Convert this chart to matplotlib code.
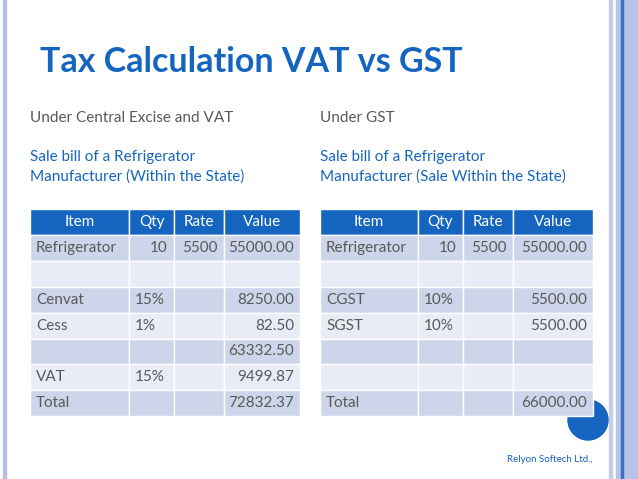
import matplotlib.pyplot as plt
from matplotlib.patches import Rectangle, Circle

plt.rcParams['font.family'] = 'Lato'

title = "Tax Calculation VAT vs GST"
headers = ["Item", "Qty", "Rate", "Value"]

vat_heading = "Under Central Excise and VAT"
vat_sub = "Sale bill of a Refrigerator\nManufacturer (Within the State)"
vat_rows = [
    ["Refrigerator", "10", "5500", "55000.00"],
    ["", "", "", ""],
    ["Cenvat", "15%", "", "8250.00"],
    ["Cess", "1%", "", "82.50"],
    ["", "", "", "63332.50"],
    ["VAT", "15%", "", "9499.87"],
    ["Total", "", "", "72832.37"],
]

gst_heading = "Under GST"
gst_sub = "Sale bill of a Refrigerator\nManufacturer (Sale Within the State)"
gst_rows = [
    ["Refrigerator", "10", "5500", "55000.00"],
    ["", "", "", ""],
    ["CGST", "10%", "", "5500.00"],
    ["SGST", "10%", "", "5500.00"],
    ["", "", "", ""],
    ["", "", "", ""],
    ["Total", "", "", "66000.00"],
]

BLUE = '#1565c0'
DARK = '#cdd5ea'
LIGHT = '#e8ecf6'
GREY = '#595959'
FS = 11

fig = plt.figure(figsize=(6.38, 4.79), dpi=100)
ax = fig.add_axes([0, 0, 1, 1])
ax.set_xlim(0, 638)
ax.set_ylim(479, 0)
ax.axis('off')

# slide frame
ax.add_patch(Rectangle((3, 0), 3, 479, color='#b4c0e0'))
ax.add_patch(Rectangle((609, 0), 3, 479, color='#c4cce6'))
ax.add_patch(Rectangle((616, 0), 22, 479, color='#b8c4e6'))
ax.add_patch(Rectangle((621, 0), 1.5, 479, color='#3d6fc8'))

# decorative circle behind table
ax.add_patch(Circle((588, 420), 20, color=BLUE, zorder=1))

ax.text(40, 62, title, fontsize=24.5, fontweight='bold', color=BLUE, va='center')


def draw_table(x0, widths, heading, sub, rows):
    ax.text(x0, 118, heading, fontsize=FS, color=GREY, va='center')
    ax.text(x0, 167, sub, fontsize=FS, color=BLUE, va='center', linespacing=1.45)
    top, h = 209, 25.9
    xs = [x0]
    for w in widths:
        xs.append(xs[-1] + w)
    for j, lab in enumerate(headers):
        ax.add_patch(Rectangle((xs[j], top), widths[j], h, facecolor=BLUE,
                               edgecolor='white', lw=1, zorder=2))
        ax.text((xs[j] + xs[j + 1]) / 2, top + h / 2, lab, fontsize=FS,
                color='white', ha='center', va='center', zorder=3)
    for i, row in enumerate(rows):
        y = top + h * (i + 1)
        fc = DARK if i % 2 == 0 else LIGHT
        for j, val in enumerate(row):
            ax.add_patch(Rectangle((xs[j], y), widths[j], h, facecolor=fc,
                                   edgecolor='white', lw=1, zorder=2))
            if not val:
                continue
            if j == 0 or (j == 1 and val.endswith('%')):
                ax.text(xs[j] + 6, y + h / 2, val, fontsize=FS, color=GREY,
                        va='center', zorder=3)
            else:
                ax.text(xs[j + 1] - 6, y + h / 2, val, fontsize=FS, color=GREY,
                        ha='right', va='center', zorder=3)


draw_table(30, [99, 45, 50, 76], vat_heading, vat_sub, vat_rows)
draw_table(320, [98, 45, 50, 80], gst_heading, gst_sub, gst_rows)

ax.text(593, 459, "Relyon Softech Ltd.,", fontsize=7, color=BLUE, ha='right', va='center')

fig.savefig('out.png', dpi=100)
